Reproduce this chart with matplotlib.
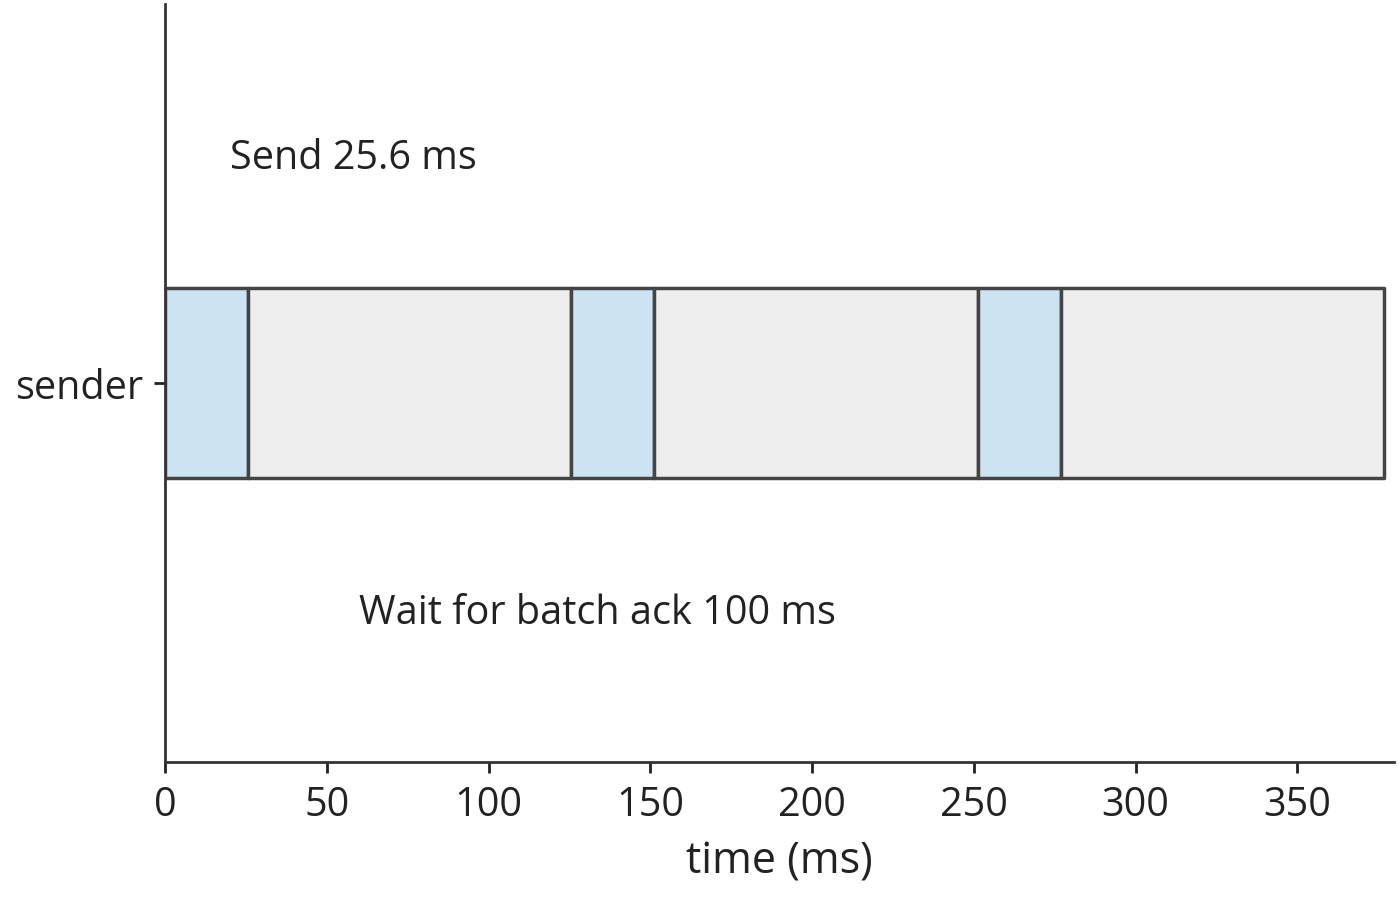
import matplotlib
matplotlib.use("Agg")
import matplotlib.pyplot as plt

send_ms = 25.6
wait_ms = 100
n_batches = 3
labels = ["Send 25.6 ms", "Wait for batch ack 100 ms"]

plt.rcParams['font.family'] = ['Open Sans', 'DejaVu Sans']
fig = plt.figure(figsize=(14, 9.03), dpi=100)
ax = fig.add_axes([0.118, 0.155, 0.878, 0.8395])

t = 0
for i in range(n_batches):
    ax.broken_barh([(t, send_ms)], (-0.5, 1), facecolors='#cce4f2', edgecolors='#444444', linewidth=2.5)
    t += send_ms
    ax.broken_barh([(t, wait_ms)], (-0.5, 1), facecolors='#eeeeee', edgecolors='#444444', linewidth=2.5)
    t += wait_ms

ax.text(20, 1.19, labels[0], fontsize=28.5, va='center', ha='left', color='#222222')
ax.text(60, -1.21, labels[1], fontsize=28.5, va='center', ha='left', color='#222222')

ax.set_xlim(0, 380)
ax.set_ylim(-2, 2)
ax.set_yticks([0])
ax.set_yticklabels(['sender'])
ax.set_xticks(range(0, 351, 50))
ax.set_xlabel('time (ms)', fontsize=31, color='#222222', labelpad=10)
ax.tick_params(labelsize=28.5, colors='#222222', width=2, length=8, pad=8)
for s in ['top', 'right']:
    ax.spines[s].set_visible(False)
for s in ['left', 'bottom']:
    ax.spines[s].set_linewidth(2)
    ax.spines[s].set_color('#333333')
fig.savefig('out.png', dpi=100)
